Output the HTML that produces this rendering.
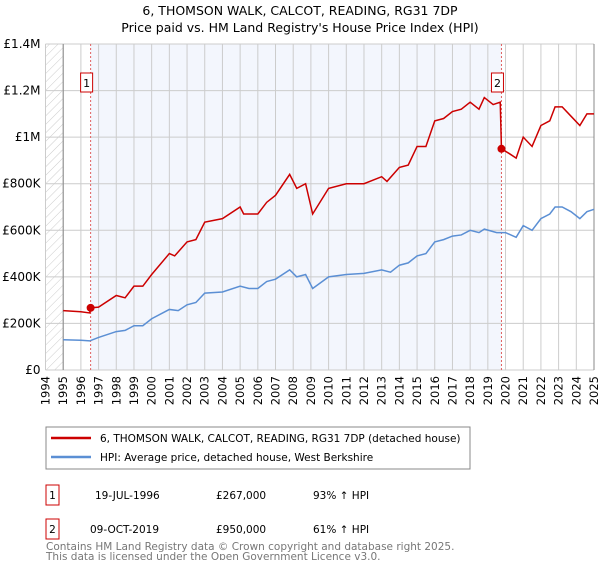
<!DOCTYPE html>
<html><head><meta charset="utf-8"><style>
body{margin:0;background:#fff;font-family:"DejaVu Sans","Liberation Sans",sans-serif;}
svg text{font-family:"DejaVu Sans","Liberation Sans",sans-serif;}
</style></head><body>
<svg width="600" height="560" id="chart">
<defs><pattern id="hatch" width="6" height="6" patternUnits="userSpaceOnUse" patternTransform="rotate(45)"><line x1="0" y1="0" x2="0" y2="6" stroke="#ccc" stroke-width="1"/></pattern></defs>
<text x="300" y="15" text-anchor="middle" font-size="12.5">6, THOMSON WALK, CALCOT, READING, RG31 7DP</text>
<text x="300" y="32" text-anchor="middle" font-size="12.5">Price paid vs. HM Land Registry's House Price Index (HPI)</text>
<g id="plot"></g>
<rect x="46" y="427" width="424" height="42" fill="#fff" stroke="#888"/>
<line x1="51" y1="438" x2="91" y2="438" stroke="#cc0000" stroke-width="2.5"/>
<text x="100" y="442" font-size="10.5">6, THOMSON WALK, CALCOT, READING, RG31 7DP (detached house)</text>
<line x1="51" y1="457" x2="91" y2="457" stroke="#5b8fd4" stroke-width="2.5"/>
<text x="100" y="461" font-size="10.5">HPI: Average price, detached house, West Berkshire</text>
<g font-size="10.5">
<rect x="46" y="485" width="13" height="20" fill="none" stroke="#cc0000"/>
<text x="52.5" y="499" text-anchor="middle">1</text>
<text x="95" y="499">19-JUL-1996</text><text x="216" y="499">£267,000</text><text x="313" y="499">93% ↑ HPI</text>
<rect x="46" y="519" width="13" height="20" fill="none" stroke="#cc0000"/>
<text x="52.5" y="533" text-anchor="middle">2</text>
<text x="90" y="533">09-OCT-2019</text><text x="216" y="533">£950,000</text><text x="313" y="533">61% ↑ HPI</text>
</g>
<text x="46" y="550" font-size="10.5" fill="#777">Contains HM Land Registry data © Crown copyright and database right 2025.</text>
<text x="46" y="560" font-size="10.5" fill="#777">This data is licensed under the Open Government Licence v3.0.</text>
</svg>
<script>
const hpiYears=[1995,1996,1996.5,1997,1998,1998.5,1999,1999.5,2000,2001,2001.5,2002,2002.5,2003,2004,2005,2005.5,2006,2006.5,2007,2007.8,2008.2,2008.7,2009.1,2010,2011,2012,2013,2013.5,2014,2014.5,2015,2015.5,2016,2016.5,2017,2017.5,2018,2018.5,2018.8,2019.5,2020,2020.6,2021,2021.5,2022,2022.5,2022.8,2023.2,2023.7,2024.2,2024.6,2025];
const hpiValues=[130,128,125,140,165,170,190,190,220,260,255,280,290,330,335,360,350,350,380,390,430,400,410,350,400,410,415,430,420,450,460,490,500,550,560,575,580,600,590,605,590,590,570,620,600,650,670,700,700,680,650,680,690];
const propYears=[1995,1996,1996.5,1996.55,1997,1998,1998.5,1999,1999.5,2000,2001,2001.3,2002,2002.5,2003,2004,2005,2005.2,2006,2006.5,2007,2007.8,2008.2,2008.7,2009.1,2010,2011,2012,2013,2013.3,2014,2014.5,2015,2015.5,2016,2016.5,2017,2017.5,2018,2018.5,2018.8,2019.3,2019.7,2019.77,2020.2,2020.6,2021,2021.5,2022,2022.5,2022.8,2023.2,2023.7,2024.2,2024.6,2025];
const propValues=[255,250,245,267,270,320,310,360,360,410,500,490,550,560,635,650,700,670,670,720,750,840,780,800,670,780,800,800,830,810,870,880,960,960,1070,1080,1110,1120,1150,1120,1170,1140,1150,950,930,910,1000,960,1050,1070,1130,1130,1090,1050,1100,1100];
const saleYears=[1996.55,2019.77];
const saleValues=[267,950];
const saleLabels=["1","2"];
const yTicks=[0,200,400,600,800,1000,1200,1400];
const yTickLabels=["£0","£200K","£400K","£600K","£800K","£1M","£1.2M","£1.4M"];
const xTicks=[1994,1995,1996,1997,1998,1999,2000,2001,2002,2003,2004,2005,2006,2007,2008,2009,2010,2011,2012,2013,2014,2015,2016,2017,2018,2019,2020,2021,2022,2023,2024,2025];

const X0=45.5,X1=594,Y0=370,Y1=44;
const x=v=>X0+(v-1994)/(2025-1994)*(X1-X0);
const y=v=>Y0-v/1400*(Y0-Y1);
const NS="http://www.w3.org/2000/svg";
const g=document.getElementById('plot');
function mk(t,a){const e=document.createElementNS(NS,t);for(const k in a)e.setAttribute(k,a[k]);g.appendChild(e);return e;}
let e;
e=mk('rect',{x:X0,y:Y1,width:X1-X0,height:Y0-Y1,fill:'#fff'});


e=mk('rect',{x:X0,y:Y1,width:x(1995)-X0,height:Y0-Y1,fill:'url(#hatch)'});


e=mk('rect',{x:x(saleYears[0]),y:Y1,width:x(saleYears[1])-x(saleYears[0]),height:Y0-Y1,fill:'#f3f6fd'});


xTicks.forEach(t=>{
 e=mk('line',{x1:x(t),x2:x(t),y1:Y1,y2:Y0,stroke:'#ccc','stroke-width':1});
 
 
 e=mk('text',{x:0,y:0,transform:`translate(${x(t)+4},376) rotate(-90)`,'text-anchor':'end','font-size':11.5});
 e.textContent=t;
 
 
});
yTicks.forEach((t,i)=>{
 e=mk('line',{x1:X0,x2:X1,y1:y(t),y2:y(t),stroke:'#ccc','stroke-width':1});
 
 
 e=mk('text',{x:X0-5,y:y(t)+4,'text-anchor':'end','font-size':12});
 e.textContent=yTickLabels[i];
 
 
});
e=mk('line',{x1:x(1995),x2:x(1995),y1:Y1,y2:Y0,stroke:'#888'});


e=mk('line',{x1:x(2025),x2:x(2025),y1:Y1,y2:Y0,stroke:'#888'});


saleYears.forEach((s,i)=>{
 e=mk('line',{x1:x(s),x2:x(s),y1:Y1,y2:Y0,stroke:'#e06060','stroke-dasharray':'2,2'});
 
 
 e=mk('rect',{x:x(s)-10,y:73,width:12,height:19,fill:'#fff',stroke:'#cc0000'});
 
 
 e=mk('text',{x:x(s)-4,y:87,'text-anchor':'middle','font-size':11});
 e.textContent=saleLabels[i];
 
 
});
e=mk('polyline',{points:hpiYears.map((t,i)=>x(t)+','+y(hpiValues[i])).join(' '),fill:'none',stroke:'#5b8fd4','stroke-width':1.5});


e=mk('polyline',{points:propYears.map((t,i)=>x(t)+','+y(propValues[i])).join(' '),fill:'none',stroke:'#cc0000','stroke-width':1.5});


saleYears.forEach((s,i)=>{
 e=mk('circle',{cx:x(s),cy:y(saleValues[i]),r:4,fill:'#cc0000'});
 
 
});
</script>
</body></html>
